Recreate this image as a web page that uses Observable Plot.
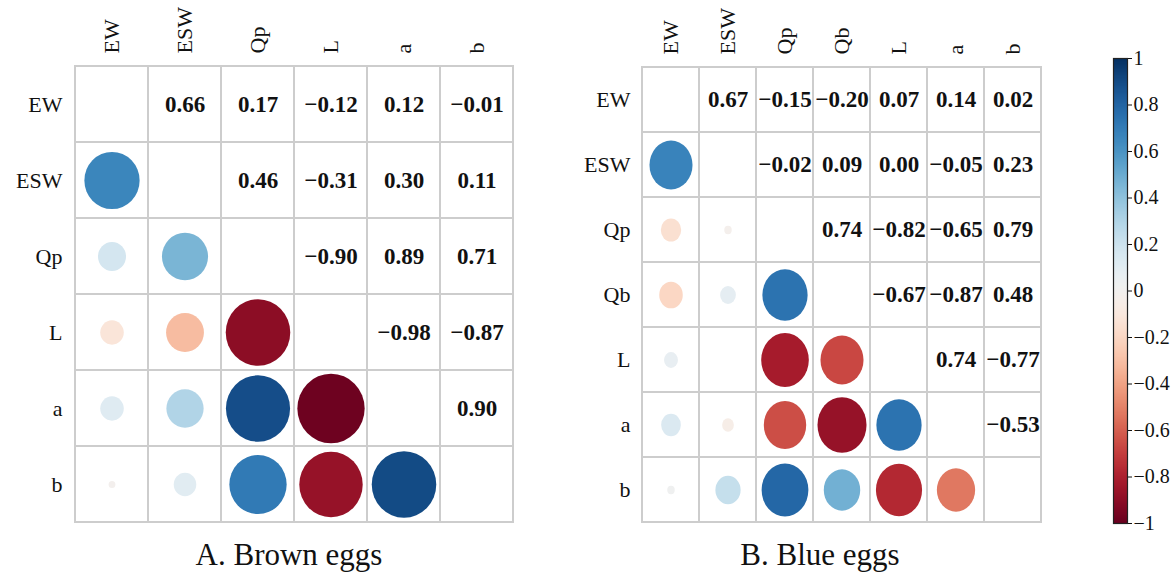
<!DOCTYPE html>
<html>
<head>
<meta charset="utf-8">
<script src="https://cdn.jsdelivr.net/npm/d3@7"></script>
<script src="https://cdn.jsdelivr.net/npm/@observablehq/plot@0.6"></script>
<style>
  html, body { margin: 0; padding: 0; background: white; }
  #wrap { position: relative; width: 1173px; height: 572px; overflow: hidden; background: white; }
  #wrap svg { position: absolute; }
  .cap { position: absolute; font-family: "Liberation Serif", "Times New Roman", serif; font-size: 31px; color: #111; white-space: nowrap; transform: translateX(-50%); line-height: 31px; }
</style>
</head>
<body>
<div id="wrap"></div>
<script>
// ---- data ----
const brownVars = ["EW", "ESW", "Qp", "L", "a", "b"];
const brownUpper = [
  [0.66, 0.17, -0.12, 0.12, -0.01],
  [0.46, -0.31, 0.30, 0.11],
  [-0.90, 0.89, 0.71],
  [-0.98, -0.87],
  [0.90]
];
const blueVars = ["EW", "ESW", "Qp", "Qb", "L", "a", "b"];
const blueUpper = [
  [0.67, -0.15, -0.20, 0.07, 0.14, 0.02],
  [-0.02, 0.09, 0.00, -0.05, 0.23],
  [0.74, -0.82, -0.65, 0.79],
  [-0.67, -0.87, 0.48],
  [0.74, -0.77],
  [-0.53]
];
const colorbarTicks = [-1, -0.8, -0.6, -0.4, -0.2, 0, 0.2, 0.4, 0.6, 0.8, 1];
const captions = ["A. Brown eggs", "B. Blue eggs"];

// ---- helpers ----
const FONT = "'Liberation Serif', 'Times New Roman', serif";
const fmt = d3.format(".2f");
const colorScale = {type: "linear", domain: [-1, 1], interpolate: d3.interpolateRdBu};

function buildPairs(vars, upper) {
  const up = [], low = [];
  for (let i = 0; i < vars.length; i++) {
    for (let j = i + 1; j < vars.length; j++) {
      const v = upper[i][j - i - 1];
      up.push({row: vars[i], col: vars[j], v});
      low.push({row: vars[j], col: vars[i], v});
    }
  }
  return {up, low};
}

function panel(vars, upper, o) {
  const {up, low} = buildPairs(vars, upper);
  const all = d3.cross(vars, vars).map(([r, c]) => ({row: r, col: c}));
  const svg = Plot.plot({
    width: o.width, height: o.height,
    marginLeft: o.ml, marginRight: o.mr, marginTop: o.mt, marginBottom: o.mb,
    style: {fontFamily: FONT, fontSize: "22px", color: "#111", background: "white", overflow: "visible"},
    x: {type: "band", domain: vars, padding: 0, axis: "top", tickSize: 0, tickPadding: 12, tickRotate: -90, label: null},
    y: {type: "band", domain: vars, padding: 0, tickSize: 0, tickPadding: 10, label: null},
    r: {type: "sqrt", domain: [0, 1], range: [0, o.rmax]},
    color: colorScale,
    marks: [
      Plot.cell(all, {x: "col", y: "row", fill: "white", stroke: "#cdcdcd", strokeWidth: 2, inset: 0}),
      Plot.dot(low, {x: "col", y: "row", r: d => Math.abs(d.v), fill: "v"}),
      Plot.text(up, {x: "col", y: "row", text: d => fmt(d.v), fontWeight: "bold", fontSize: 23, fill: "#111"})
    ]
  });
  // stretch circles vertically to follow the cell aspect ratio
  const n = vars.length;
  const k = ((o.height - o.mt - o.mb) / n) / ((o.width - o.ml - o.mr) / n);
  svg.querySelectorAll("circle").forEach(c => {
    const cx = +c.getAttribute("cx"), cy = +c.getAttribute("cy");
    c.setAttribute("transform", `translate(${cx},${cy}) scale(1,${k}) translate(${-cx},${-cy})`);
  });
  svg.style.left = o.left + "px";
  svg.style.top = o.top + "px";
  return svg;
}

const wrap = document.getElementById("wrap");

wrap.appendChild(panel(brownVars, brownUpper, {left: 0, top: 0, width: 530, height: 540, ml: 72, mr: 15, mt: 65, mb: 17, rmax: 34}));
wrap.appendChild(panel(blueVars, blueUpper, {left: 560, top: 0, width: 490, height: 540, ml: 80, mr: 7, mt: 66, mb: 17, rmax: 26.3}));

// colorbar
const bar = Plot.plot({
  width: 73, height: 540,
  marginLeft: 13, marginRight: 46, marginTop: 58, marginBottom: 17,
  style: {fontFamily: FONT, fontSize: "20px", color: "#111", background: "transparent", overflow: "visible"},
  x: {domain: [0, 1], axis: null},
  y: {domain: [-1, 1], axis: "right", ticks: colorbarTicks, tickFormat: d3.format("~g"), tickSize: 4, tickPadding: 2, label: null},
  color: colorScale,
  marks: [
    Plot.raster({x1: 0, x2: 1, y1: -1, y2: 1, width: 1, height: 400, fill: (x, y) => y, imageRendering: "auto"}),
    Plot.frame({stroke: "#222", strokeWidth: 1.2})
  ]
});
bar.style.left = "1100px";
bar.style.top = "0px";
wrap.appendChild(bar);

// captions
[[captions[0], 289], [captions[1], 820]].forEach(([t, x]) => {
  const d = document.createElement("div");
  d.className = "cap";
  d.textContent = t;
  d.style.left = x + "px";
  d.style.top = "539px";
  wrap.appendChild(d);
});
</script>
</body>
</html>
